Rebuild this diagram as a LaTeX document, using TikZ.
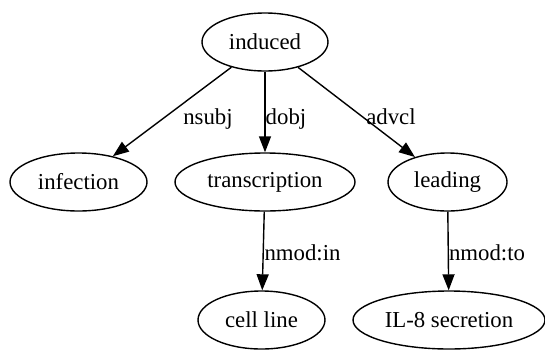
\documentclass[tikz,border=0pt]{standalone}
\usepackage{fontspec}
\setmainfont{Liberation Serif}[Ligatures=TeX]
\newfontfamily\wordfont{Liberation Serif}
\usetikzlibrary{shapes.geometric, arrows.meta}

\tikzset{
  word/.style = {draw, ellipse, line width=1.4pt, inner sep=0pt, minimum height=58pt,
                 font=\wordfont\fontsize{22.8}{27}\selectfont},
  dep/.style = {-{Triangle[length=16pt, width=12pt]}, line width=1.4pt},
  rel/.style = {anchor=base, inner sep=0pt, font=\wordfont\fontsize{22.8}{27}\selectfont}
}

\begin{document}
\begin{tikzpicture}[x=1pt, y=-1pt]
  \useasboundingbox (0,0) rectangle (545,349);
  %词节点
  \node[word, minimum width=126pt] (induced) at (265,42) {induced};
  \node[word, minimum width=137pt] (infection) at (78.5,182) {infection};
  \node[word, minimum width=180pt] (transcription) at (265,182) {transcription};
  \node[word, minimum width=119pt] (leading) at (447.5,182) {leading};
  \node[word, minimum width=127pt] (cellline) at (261.5,320) {cell line};
  \node[word, minimum width=192pt] (secretion) at (449,320) {IL-8 secretion};
  %依存弧
  \draw[dep] (induced) -- (infection);
  \draw[dep] (induced) -- (transcription);
  \draw[dep] (induced) -- (leading);
  \draw[dep] (transcription) -- (cellline);
  \draw[dep] (leading) -- (secretion);
  %关系标签
  \node[rel] (nsubj) at (208,124) {nsubj};
  \node[rel] (dobj) at (286,124) {dobj};
  \node[rel] (advcl) at (391,124) {advcl};
  \node[rel] (nmodin) at (302.5,260) {nmod:in};
  \node[rel] (nmodto) at (487,260) {nmod:to};
\end{tikzpicture}
\end{document}
